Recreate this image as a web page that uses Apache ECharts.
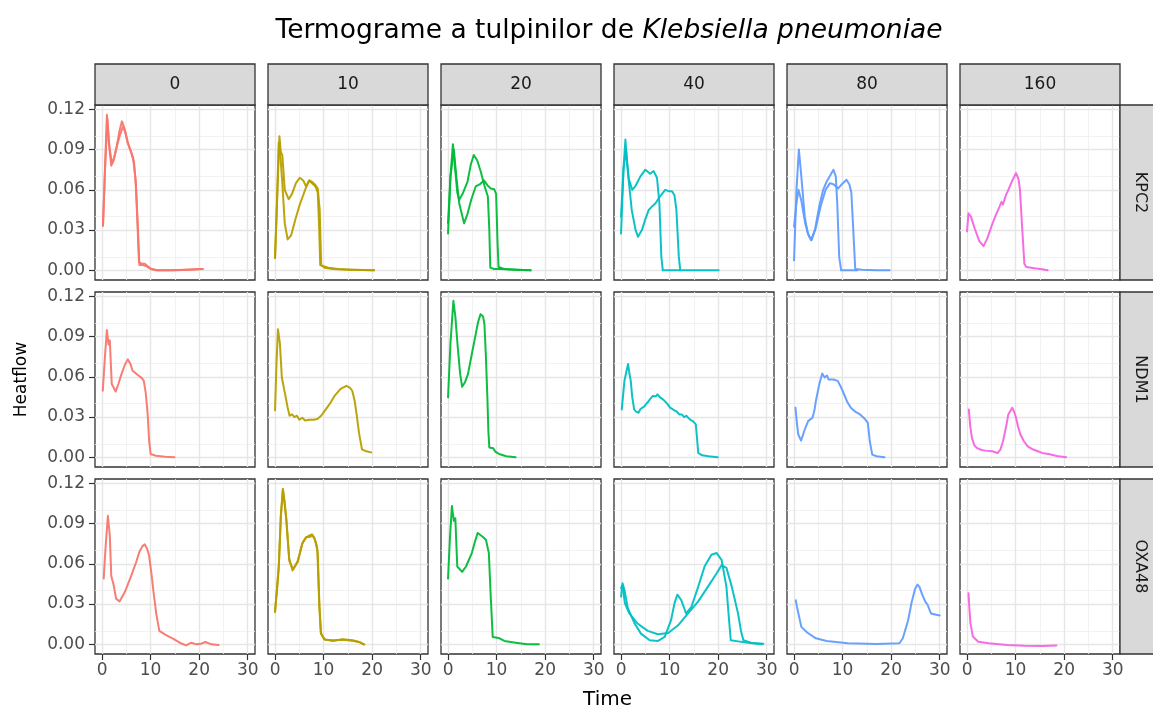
<!DOCTYPE html>
<html>
<head>
<meta charset="utf-8">
<title>Termograme Klebsiella pneumoniae</title>
<script src="https://cdn.jsdelivr.net/npm/echarts@6/dist/echarts.min.js"></script>
<style>
  html, body { margin: 0; padding: 0; background: #ffffff; }
  #chart { width: 1153px; height: 710px; }
</style>
</head>
<body>
<div id="chart"></div>
<script>
// Facet categories: columns are doses, rows are strains
const doses = ['0', '10', '20', '40', '80', '160'];
const strains = ['KPC2', 'NDM1', 'OXA48'];
const doseColors = ['#F8766D', '#B79F00', '#00BA38', '#00BFC4', '#619CFF', '#F564E3'];

// Axis ticks
const xTicks = [0, 10, 20, 30];
const xMinorTicks = [5, 15, 25];
const yTicks = [0, 0.03, 0.06, 0.09, 0.12];
const yMinorTicks = [0.015, 0.045, 0.075, 0.105];

// Heat flow curves, [time, heatflow]
const kpc2_0_a = [[0.2,0.033],[0.6,0.075],[1.0,0.116],[1.4,0.095],[1.9,0.078],[2.4,0.082],[3.0,0.092],[3.6,0.104],[4.1,0.111],[4.6,0.106],[5.2,0.096],[5.8,0.090],[6.4,0.084],[6.9,0.068],[7.3,0.035],[7.6,0.006],[8.2,0.005],[8.8,0.005],[9.4,0.003],[10.2,0.001],[11.2,0.0],[14,0.0],[17,0.0005],[20.8,0.001]];
const kpc2_0_b = [[0.2,0.034],[0.6,0.074],[1.1,0.113],[1.5,0.093],[2.0,0.080],[2.5,0.084],[3.1,0.093],[3.7,0.101],[4.3,0.107],[4.8,0.103],[5.4,0.094],[6.0,0.088],[6.6,0.080],[7.0,0.062],[7.4,0.030],[7.7,0.004],[8.4,0.004],[9.2,0.003],[10.0,0.001],[11.5,0.0],[15,0.0],[18,0.0005],[20.5,0.001]];
const kpc2_10_a = [[0.0,0.009],[0.4,0.05],[0.9,0.100],[1.2,0.088],[1.5,0.086],[2.0,0.060],[2.8,0.053],[3.5,0.057],[4.3,0.065],[5.1,0.069],[5.8,0.067],[6.4,0.0625],[7.0,0.067],[7.4,0.068],[7.9,0.064],[8.4,0.062],[8.8,0.058],[9.1,0.030],[9.3,0.004],[10,0.003],[11,0.002],[13,0.001],[16,0.0005],[20.4,0.0]];
const kpc2_10_b = [[0.0,0.010],[0.4,0.05],[0.75,0.095],[1.1,0.085],[1.5,0.065],[2.0,0.035],[2.6,0.023],[3.3,0.026],[4.2,0.038],[5.0,0.048],[5.7,0.055],[6.4,0.062],[7.1,0.067],[7.6,0.066],[8.2,0.064],[8.8,0.061],[9.2,0.045],[9.5,0.004],[10.2,0.002],[12,0.001],[15,0.0005],[20.4,0.0]];
const kpc2_20_a = [[0.0,0.0275],[0.5,0.07],[1.0,0.094],[1.4,0.078],[1.9,0.058],[2.3,0.0525],[3.0,0.057],[4.0,0.066],[4.7,0.079],[5.3,0.086],[6.0,0.082],[6.7,0.074],[7.5,0.063],[8.2,0.055],[8.5,0.030],[8.7,0.002],[9.5,0.001],[11,0.001],[14,0.0005],[17,0.0]];
const kpc2_20_b = [[0.0,0.035],[0.5,0.07],[1.2,0.090],[1.7,0.070],[2.3,0.050],[3.3,0.035],[4.0,0.042],[4.8,0.053],[5.7,0.0625],[6.5,0.064],[7.4,0.067],[8.2,0.063],[8.8,0.061],[9.5,0.0605],[9.9,0.057],[10.2,0.020],[10.4,0.0025],[11.5,0.001],[14,0.0005],[17.0,0.0]];
const kpc2_40_a = [[0.0,0.0275],[0.5,0.075],[0.9,0.0975],[1.2,0.0825],[1.6,0.068],[2.3,0.060],[3.0,0.063],[4.0,0.070],[5.0,0.075],[6.0,0.072],[6.7,0.074],[7.4,0.069],[7.9,0.050],[8.3,0.010],[8.6,0.0],[10,0.0],[12,0.0]];
const kpc2_40_b = [[0.0,0.040],[0.5,0.075],[1.0,0.090],[1.5,0.070],[2.2,0.045],[3.0,0.030],[3.5,0.025],[4.3,0.030],[5.0,0.038],[5.7,0.045],[6.5,0.048],[7.1,0.050],[8.0,0.055],[9.1,0.060],[9.8,0.059],[10.5,0.059],[11.0,0.056],[11.4,0.045],[11.9,0.010],[12.2,0.0],[14,0.0],[17,0.0],[20.1,0.0]];
const kpc2_80_a = [[0.0,0.0075],[0.5,0.06],[1.0,0.090],[1.5,0.070],[2.2,0.040],[2.8,0.028],[3.5,0.0225],[4.3,0.030],[5.2,0.048],[6.0,0.060],[6.7,0.066],[7.5,0.071],[8.1,0.075],[8.6,0.070],[8.9,0.050],[9.3,0.010],[9.7,0.0],[11,0.0],[13,0.0]];
const kpc2_80_b = [[0.0,0.0325],[0.5,0.05],[0.9,0.060],[1.5,0.052],[2.3,0.035],[3.0,0.026],[3.6,0.0225],[4.5,0.032],[5.5,0.048],[6.5,0.060],[7.4,0.065],[8.2,0.064],[9.1,0.061],[9.8,0.064],[10.8,0.0675],[11.4,0.064],[11.8,0.058],[12.2,0.030],[12.6,0.001],[14,0.0005],[17,0.0],[19.7,0.0]];
const kpc2_160 = [[0.0,0.029],[0.3,0.0425],[0.8,0.040],[1.6,0.031],[2.5,0.022],[3.4,0.018],[4.2,0.024],[5.0,0.0325],[5.9,0.041],[6.7,0.0475],[7.1,0.051],[7.4,0.049],[8.0,0.056],[8.4,0.059],[9.2,0.066],[10.1,0.0725],[10.6,0.068],[10.9,0.060],[11.3,0.035],[11.8,0.005],[12.2,0.0025],[13.9,0.0015],[15.5,0.0008],[16.6,0.0]];

const ndm1_0 = [[0.15,0.0496],[0.6,0.075],[1.0,0.0948],[1.35,0.084],[1.6,0.087],[2.0,0.0546],[2.8,0.049],[3.4,0.055],[4.0,0.062],[4.7,0.069],[5.3,0.073],[5.8,0.070],[6.3,0.0645],[7.5,0.061],[8.2,0.059],[8.6,0.057],[9.0,0.048],[9.4,0.032],[9.7,0.012],[10.0,0.0025],[11.1,0.0012],[13,0.0005],[14.9,0.0]];
const ndm1_10 = [[0.0,0.035],[0.3,0.07],[0.6,0.0955],[1.0,0.085],[1.4,0.0595],[2.2,0.0447],[2.6,0.037],[3.0,0.031],[3.5,0.032],[4.0,0.030],[4.5,0.031],[5.0,0.028],[5.6,0.0295],[6.2,0.0275],[7.0,0.028],[8.0,0.028],[8.7,0.0285],[9.5,0.031],[10.3,0.035],[11.3,0.040],[12.3,0.046],[13.5,0.051],[14.7,0.0533],[15.4,0.052],[15.9,0.0496],[16.4,0.042],[16.8,0.032],[17.3,0.018],[17.9,0.006],[18.8,0.0045],[19.8,0.0037]];
const ndm1_20 = [[0.0,0.0447],[0.5,0.085],[1.1,0.1166],[1.5,0.105],[2.0,0.082],[2.5,0.062],[2.9,0.0526],[3.5,0.056],[4.1,0.062],[4.9,0.077],[5.7,0.0918],[6.2,0.101],[6.7,0.1067],[7.2,0.105],[7.5,0.099],[7.8,0.075],[8.1,0.0447],[8.3,0.020],[8.5,0.0074],[9.3,0.0067],[9.8,0.004],[10.5,0.0025],[12,0.0008],[13.9,0.0]];
const ndm1_40 = [[0.15,0.0357],[0.7,0.057],[1.1,0.064],[1.45,0.0695],[1.7,0.063],[2.0,0.057],[2.3,0.045],[2.7,0.0357],[3.1,0.034],[3.6,0.0332],[4.0,0.036],[4.4,0.035],[4.8,0.038],[5.1,0.0395],[5.5,0.041],[5.9,0.043],[6.2,0.044],[6.5,0.0457],[6.9,0.047],[7.2,0.0455],[7.5,0.047],[7.9,0.045],[8.3,0.046],[8.7,0.043],[9.1,0.042],[9.5,0.040],[10.1,0.037],[10.5,0.038],[11.0,0.035],[11.5,0.034],[12.0,0.032],[12.5,0.032],[13.0,0.030],[13.5,0.031],[13.8,0.0295],[14.3,0.028],[14.8,0.027],[15.4,0.0245],[15.7,0.012],[15.9,0.0033],[16.7,0.0015],[18,0.0008],[19.9,0.0]];
const ndm1_80 = [[0.3,0.037],[0.6,0.025],[0.87,0.017],[1.45,0.0125],[2.2,0.0207],[2.9,0.027],[3.8,0.0295],[4.2,0.035],[4.5,0.042],[5.2,0.0545],[5.8,0.0625],[6.3,0.0595],[6.8,0.061],[7.1,0.058],[7.4,0.059],[8.1,0.058],[9.0,0.057],[9.7,0.052],[10.3,0.047],[11.0,0.041],[11.7,0.037],[12.6,0.034],[13.6,0.032],[14.5,0.029],[15.2,0.0257],[15.6,0.012],[16.1,0.002],[17,0.0008],[18.6,0.0]];
const ndm1_160 = [[0.36,0.0357],[0.7,0.022],[1.0,0.0145],[1.5,0.009],[2.0,0.007],[3.0,0.0055],[3.8,0.005],[5.2,0.0045],[6.3,0.0032],[6.9,0.006],[7.4,0.012],[8.0,0.022],[8.5,0.032],[9.3,0.037],[9.7,0.034],[10.1,0.0295],[10.5,0.023],[11.0,0.017],[11.7,0.012],[12.5,0.0082],[13.5,0.006],[14.6,0.0045],[15.7,0.003],[16.8,0.0025],[18.5,0.001],[20.4,0.0]];

const oxa48_0 = [[0.34,0.049],[0.6,0.065],[0.9,0.081],[1.2,0.0958],[1.6,0.081],[1.9,0.051],[2.4,0.044],[2.9,0.034],[3.6,0.032],[4.7,0.039],[6.0,0.051],[7.0,0.061],[7.7,0.069],[8.3,0.073],[8.8,0.0745],[9.3,0.071],[9.7,0.066],[10.2,0.052],[10.6,0.039],[11.2,0.022],[11.8,0.010],[13.2,0.0068],[14.6,0.0043],[16.0,0.0012],[17.3,-0.0008],[18.4,0.0012],[19.4,0.0],[20.4,0.0005],[21.3,0.0017],[22.5,0.0],[24.0,-0.0005]];
const oxa48_10_a = [[0.0,0.025],[0.4,0.04],[0.75,0.056],[1.2,0.095],[1.6,0.116],[2.0,0.105],[2.3,0.094],[2.9,0.064],[3.6,0.055],[4.6,0.061],[5.6,0.075],[6.3,0.079],[7.0,0.081],[7.6,0.082],[8.0,0.080],[8.4,0.076],[8.7,0.071],[9.1,0.030],[9.4,0.0088],[10.1,0.0038],[11.9,0.0025],[13.9,0.0038],[16.0,0.003],[17.3,0.0018],[18.2,0.0]];
const oxa48_10_b = [[0.0,0.024],[0.4,0.042],[0.8,0.06],[1.2,0.097],[1.65,0.115],[2.0,0.104],[2.35,0.092],[2.95,0.062],[3.7,0.056],[4.7,0.062],[5.7,0.076],[6.4,0.080],[7.1,0.080],[7.7,0.081],[8.1,0.079],[8.5,0.074],[8.8,0.068],[9.15,0.028],[9.5,0.0075],[10.3,0.0035],[12,0.003],[14,0.0035],[16.2,0.0025],[17.5,0.0015],[18.4,0.0]];
const oxa48_20 = [[0.0,0.049],[0.4,0.08],[0.8,0.103],[1.2,0.092],[1.5,0.094],[1.9,0.058],[2.9,0.054],[3.7,0.058],[4.9,0.068],[5.5,0.076],[6.1,0.083],[7.0,0.0805],[7.8,0.078],[8.4,0.068],[8.8,0.035],[9.2,0.0055],[10.4,0.0048],[11.6,0.0025],[13.9,0.0012],[16.3,0.0],[18.7,0.0]];
const oxa48_40_a = [[0.0,0.0355],[0.3,0.0455],[0.7,0.0405],[1.4,0.027],[2.8,0.0155],[4.1,0.008],[5.9,0.003],[7.6,0.0025],[9.0,0.0055],[10.3,0.018],[11.0,0.0305],[11.6,0.037],[12.4,0.033],[13.4,0.023],[14.5,0.028],[15.9,0.043],[17.2,0.058],[18.6,0.0668],[19.7,0.068],[20.7,0.063],[21.7,0.043],[22.2,0.02],[22.6,0.003],[24.1,0.0022],[26.2,0.0012],[29.0,0.0]];
const oxa48_40_b = [[0.0,0.042],[0.3,0.044],[0.8,0.0305],[1.7,0.023],[3.4,0.0155],[5.5,0.010],[7.6,0.0075],[9.7,0.0085],[11.7,0.014],[13.8,0.023],[15.9,0.032],[17.9,0.043],[19.7,0.053],[20.7,0.059],[21.7,0.057],[22.8,0.043],[24.1,0.023],[24.7,0.010],[25.2,0.003],[26.9,0.001],[29.3,0.0005]];
const oxa48_80 = [[0.36,0.0328],[0.6,0.028],[0.9,0.023],[1.5,0.013],[2.7,0.0088],[4.5,0.0045],[6.7,0.0025],[11.1,0.0008],[16.9,0.0002],[21.7,0.0008],[22.4,0.0045],[23.5,0.018],[24.2,0.031],[24.9,0.041],[25.4,0.0445],[25.8,0.043],[26.4,0.037],[27.0,0.032],[27.5,0.0295],[28.2,0.023],[29.3,0.022],[30.0,0.0215]];
const oxa48_160 = [[0.3,0.038],[0.5,0.026],[0.7,0.0158],[1.2,0.0058],[2.3,0.002],[4.5,0.0008],[8.2,-0.0005],[11.8,-0.001],[15.5,-0.0012],[18.4,-0.0008]];

// Replicate curves per facet: curves[strain][dose index]
const curves = {
  KPC2:  [[kpc2_0_a, kpc2_0_b], [kpc2_10_a, kpc2_10_b], [kpc2_20_a, kpc2_20_b], [kpc2_40_a, kpc2_40_b], [kpc2_80_a, kpc2_80_b], [kpc2_160]],
  NDM1:  [[ndm1_0], [ndm1_10], [ndm1_20], [ndm1_40], [ndm1_80], [ndm1_160]],
  OXA48: [[oxa48_0], [oxa48_10_a, oxa48_10_b], [oxa48_20], [oxa48_40_a, oxa48_40_b], [oxa48_80], [oxa48_160]]
};

// Panel layout (pixels)
const FONT = '"DejaVu Sans", "Liberation Sans", sans-serif';
const panelLeft = 95, panelStepX = 173, panelW = 160;
const panelTop = 105, panelStepY = 187, panelH = 175;
const stripSize = 41;
const xRange = [-1.45, 31.5];
const yRange = [-0.0072, 0.1232];

const majorLine = { color: '#e6e6e6', width: 1.4, type: 'solid' };
const minorLine = { color: '#efefef', width: 0.8, type: 'solid' };

const grids = [], xAxes = [], yAxes = [], series = [], graphics = [];

strains.forEach((strain, r) => {
  doses.forEach((dose, c) => {
    const g = grids.length;
    const left = panelLeft + c * panelStepX;
    const top = panelTop + r * panelStepY;
    grids.push({
      left: left, top: top, width: panelW, height: panelH,
      show: true, backgroundColor: '#ffffff',
      borderColor: '#333333', borderWidth: 1.3,
      containLabel: false, outerBoundsMode: 'none'
    });
    const bottomRow = r === strains.length - 1;
    const leftCol = c === 0;
    xAxes.push({
      gridIndex: g, type: 'value', min: xRange[0], max: xRange[1],
      axisLine: { show: false, onZero: false },
      splitLine: { show: false },
      axisTick: bottomRow
        ? { show: true, customValues: xTicks, length: 6, lineStyle: { color: '#333333', width: 1.2 } }
        : { show: false },
      axisLabel: bottomRow
        ? { show: true, customValues: xTicks, color: '#4d4d4d', fontSize: 17, fontFamily: FONT, margin: 8 }
        : { show: false }
    });
    yAxes.push({
      gridIndex: g, type: 'value', min: yRange[0], max: yRange[1],
      axisLine: { show: false, onZero: false },
      splitLine: { show: false },
      axisTick: leftCol
        ? { show: true, customValues: yTicks, length: 6, lineStyle: { color: '#333333', width: 1.2 } }
        : { show: false },
      axisLabel: leftCol
        ? { show: true, customValues: yTicks, color: '#4d4d4d', fontSize: 17, fontFamily: FONT, margin: 10,
            formatter: v => Number(v).toFixed(2) }
        : { show: false }
    });

    // panel grid lines
    const gridMarks = []
      .concat(xMinorTicks.map(v => ({ xAxis: v, lineStyle: minorLine })))
      .concat(yMinorTicks.map(v => ({ yAxis: v, lineStyle: minorLine })))
      .concat(xTicks.map(v => ({ xAxis: v, lineStyle: majorLine })))
      .concat(yTicks.map(v => ({ yAxis: v, lineStyle: majorLine })));
    series.push({
      type: 'line', xAxisIndex: g, yAxisIndex: g, data: [], silent: true, z: 1,
      animation: false,
      markLine: {
        silent: true, z: 1, animation: false, symbol: ['none', 'none'],
        label: { show: false }, emphasis: { disabled: true },
        data: gridMarks
      }
    });

    curves[strain][c].forEach(rep => {
      series.push({
        type: 'line', xAxisIndex: g, yAxisIndex: g, data: rep,
        showSymbol: false, symbol: 'none', silent: true, z: 3, animation: false,
        lineStyle: { color: doseColors[c], width: 2, opacity: 0.95, join: 'round', cap: 'round' }
      });
    });
  });
});

// Column strips (dose)
doses.forEach((dose, c) => {
  const left = panelLeft + c * panelStepX;
  graphics.push({
    type: 'rect', z: 10, silent: true,
    shape: { x: left, y: panelTop - stripSize, width: panelW, height: stripSize },
    style: { fill: '#d9d9d9', stroke: '#333333', lineWidth: 1.3 }
  });
  graphics.push({
    type: 'text', z: 11, silent: true, x: left + panelW / 2, y: panelTop - stripSize / 2,
    style: { text: dose, fill: '#1a1a1a', font: '17px ' + FONT, align: 'center', verticalAlign: 'middle' }
  });
});

// Row strips (strain)
const stripX = panelLeft + (doses.length - 1) * panelStepX + panelW;
strains.forEach((strain, r) => {
  const top = panelTop + r * panelStepY;
  graphics.push({
    type: 'rect', z: 10, silent: true,
    shape: { x: stripX, y: top, width: stripSize, height: panelH },
    style: { fill: '#d9d9d9', stroke: '#333333', lineWidth: 1.3 }
  });
  graphics.push({
    type: 'text', z: 11, silent: true, x: stripX + stripSize / 2, y: top + panelH / 2,
    rotation: -Math.PI / 2,
    style: { text: strain, fill: '#1a1a1a', font: '16px ' + FONT, align: 'center', verticalAlign: 'middle' }
  });
});

// Title and axis titles
const panelsRight = stripX;
const panelsBottom = panelTop + (strains.length - 1) * panelStepY + panelH;
graphics.push({
  type: 'text', z: 11, silent: true, x: 609, y: 31,
  style: {
    text: '{n|Termograme a tulpinilor de }{i|Klebsiella pneumoniae}',
    align: 'center', verticalAlign: 'middle',
    rich: {
      n: { fontSize: 26.5, fontFamily: FONT, fill: '#000000', color: '#000000' },
      i: { fontSize: 26.5, fontFamily: FONT, fontStyle: 'italic', fill: '#000000', color: '#000000' }
    }
  }
});
graphics.push({
  type: 'text', z: 11, silent: true, x: (panelLeft + panelsRight) / 2, y: 700,
  style: { text: 'Time', fill: '#000000', font: '20px ' + FONT, align: 'center', verticalAlign: 'middle' }
});
graphics.push({
  type: 'text', z: 11, silent: true, x: 22, y: (panelTop + panelsBottom) / 2,
  rotation: Math.PI / 2,
  style: { text: 'Heatflow', fill: '#000000', font: '17px ' + FONT, align: 'center', verticalAlign: 'middle' }
});

const chart = echarts.init(document.getElementById('chart'), null, { renderer: 'canvas' });
chart.setOption({
  backgroundColor: '#ffffff',
  animation: false,
  grid: grids,
  xAxis: xAxes,
  yAxis: yAxes,
  series: series,
  graphic: graphics
});
</script>
</body>
</html>
